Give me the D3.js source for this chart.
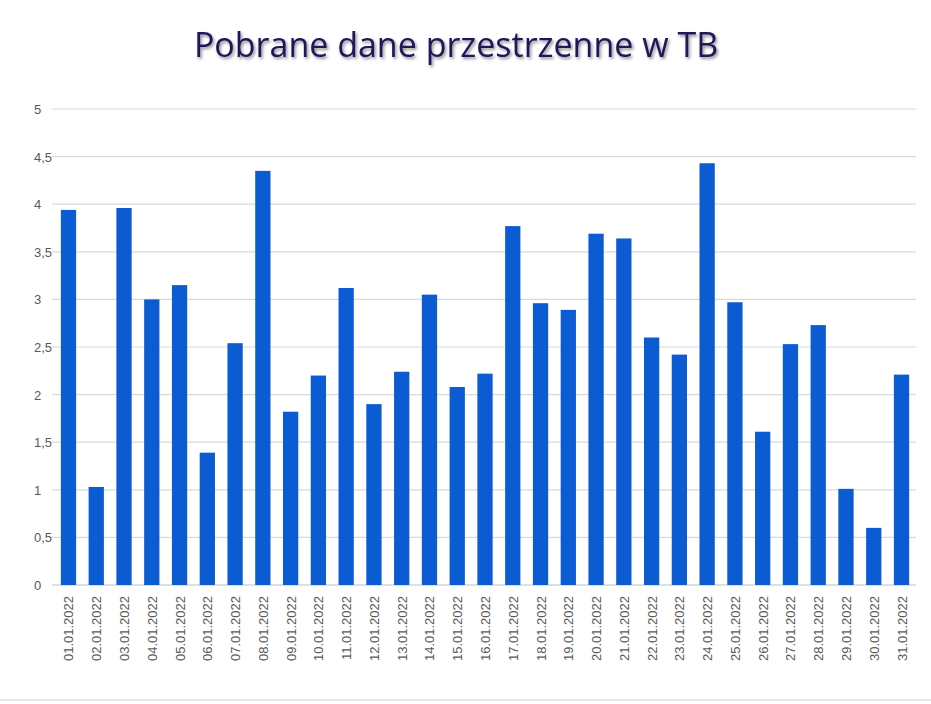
<!DOCTYPE html>
<html><head><meta charset="utf-8">
<script src="https://cdn.jsdelivr.net/npm/d3@7"></script>
<style>body{margin:0;background:#fff}</style></head>
<body><svg id="c" width="931" height="704"></svg>
<script>
const categories = ["01.01.2022","02.01.2022","03.01.2022","04.01.2022","05.01.2022","06.01.2022","07.01.2022","08.01.2022","09.01.2022","10.01.2022","11.01.2022","12.01.2022","13.01.2022","14.01.2022","15.01.2022","16.01.2022","17.01.2022","18.01.2022","19.01.2022","20.01.2022","21.01.2022","22.01.2022","23.01.2022","24.01.2022","25.01.2022","26.01.2022","27.01.2022","28.01.2022","29.01.2022","30.01.2022","31.01.2022"];
const values = [3.94,1.03,3.96,3.0,3.15,1.39,2.54,4.35,1.82,2.2,3.12,1.9,2.24,3.05,2.08,2.22,3.77,2.96,2.89,3.69,3.64,2.6,2.42,4.43,2.97,1.61,2.53,2.73,1.01,0.6,2.21];
const yTicks = [0,0.5,1,1.5,2,2.5,3,3.5,4,4.5,5];
const title = "Pobrane dane przestrzenne w TB";

const svg = d3.select("#c");
const defs = svg.append("defs");
const f = defs.append("filter").attr("id","sh").attr("x","-10%").attr("y","-30%").attr("width","120%").attr("height","160%");
f.append("feDropShadow").attr("dx",1.5).attr("dy",2).attr("stdDeviation",1.5).attr("flood-color","#000").attr("flood-opacity",0.45);

svg.append("text").attr("x",456).attr("y",57).attr("text-anchor","middle")
  .attr("font-family","Open Sans, sans-serif").attr("font-size",34).attr("fill","#24135a")
  .attr("filter","url(#sh)").text(title);

const x = d3.scaleBand().domain(categories).range([54.6,915.4]).paddingInner(0.45).paddingOuter(0.225);
const y = d3.scaleLinear().domain([0,5]).range([585,109]);

svg.append("g").selectAll("line").data(yTicks).join("line")
  .attr("x1",52).attr("x2",916).attr("y1",d=>y(d)).attr("y2",d=>y(d))
  .attr("stroke",d=>d===0?"#bfbfbf":"#d9d9d9").attr("stroke-width",1.2);

svg.append("g").selectAll("text").data(yTicks).join("text")
  .attr("x",34).attr("y",d=>y(d)+5).attr("font-family","Liberation Sans, sans-serif")
  .attr("font-size",13).attr("fill","#595959").text(d=>String(d).replace(".",","));

svg.append("g").selectAll("rect").data(values).join("rect")
  .attr("x",(d,i)=>x(categories[i])).attr("width",x.bandwidth())
  .attr("y",d=>y(d)).attr("height",d=>y(0)-y(d)).attr("fill","#0b5bd3");

svg.append("g").selectAll("text").data(categories).join("text")
  .attr("transform",d=>`translate(${x(d)+x.bandwidth()/2+5},596) rotate(-90)`)
  .attr("text-anchor","end").attr("font-family","Liberation Sans, sans-serif")
  .attr("font-size",13).attr("fill","#595959").text(d=>d);

svg.append("line").attr("x1",0).attr("x2",931).attr("y1",700).attr("y2",700).attr("stroke","#d0d0d0");
</script></body></html>
